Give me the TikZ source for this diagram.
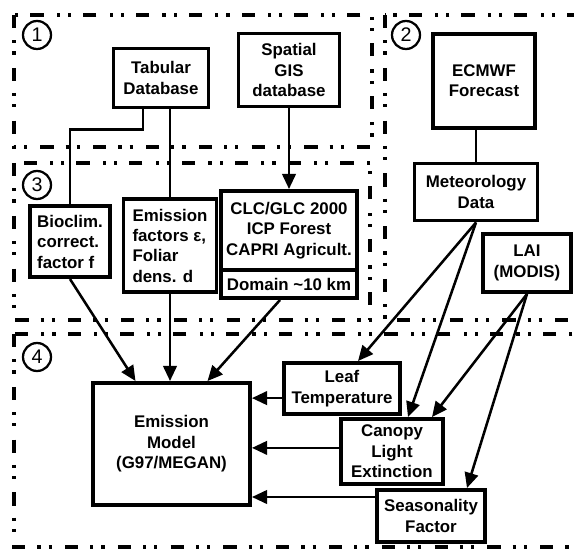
\documentclass[tikz,border=0pt]{standalone}
\usepackage{fontspec}
\setmainfont{Liberation Sans}
\usepackage{tikz}
\usetikzlibrary{arrows.meta, positioning, calc}

\begin{document}
\begin{tikzpicture}[
  box/.style={draw, line width=2.8pt, align=center, inner sep=2pt, font=\fontsize{12}{14.5}\selectfont\bfseries},
  lbox/.style={box, align=left},
  region/.style={draw, line width=3.2pt, dash pattern=on 0.33cm off 0.3cm on 0.08cm off 0.2cm on 0.08cm off 0.33cm},
  numcirc/.style={draw, circle, line width=1.6pt, minimum size=0.7cm, inner sep=0pt, font=\fontsize{14}{14}\selectfont},
  link/.style={line width=1.8pt},
  flow/.style={link, -{Triangle[length=0.38cm, width=0.34cm]}},
  ]
  \useasboundingbox (0,0) rectangle (14.35,-13.75);
  \clip (0,0) rectangle (14.35,-13.75);

  % regions
  \draw[region] (0.35,-0.375) rectangle (9.3,-3.675);
  \draw[region] (9.625,-0.375) rectangle (15,-8.0);
  \draw[region] (0.35,-4.075) rectangle (9.25,-8.0);
  \draw[region] (0.35,-8.35) rectangle (15,-13.675);
  \node[numcirc] (n1) at (0.925,-0.875) {1};
  \node[numcirc] (n2) at (10.15,-0.875) {2};
  \node[numcirc] (n3) at (0.925,-4.625) {3};
  \node[numcirc] (n4) at (0.925,-8.925) {4};

  % input data
  \node[box, minimum width=2.375cm, minimum height=1.475cm] (tab) at (4.025,-1.95) {Tabular\\Database};
  \node[box, minimum width=2.525cm, minimum height=1.825cm] (gis) at (7.225,-1.75) {Spatial\\GIS\\database};
  \node[box, minimum width=2.55cm, minimum height=2.35cm] (ecmwf) at (12.1,-2.025) {ECMWF\\Forecast};
  \node[box, minimum width=3.075cm, minimum height=1.425cm] (met) at (11.9,-4.8) {Meteorology\\Data};
  \node[box, minimum width=2.2cm, minimum height=1.45cm] (lai) at (13.175,-6.575) {LAI\\(MODIS)};
  \node[lbox, minimum width=2.0cm, minimum height=1.775cm] (bio) at (1.75,-6.04) {Bioclim.\\correct.\\factor f};
  \node[lbox, minimum width=2.325cm, minimum height=2.325cm] (emf) at (4.25,-6.14) {Emission\\factors ε,\\Foliar\\dens. d};
  \node[box, minimum width=3.4cm, minimum height=1.975cm] (clc) at (7.225,-5.7625) {CLC/GLC 2000\\ICP Forest\\CAPRI Agricult.};
  \node[box, minimum width=3.4cm, minimum height=0.7cm] (dom) at (7.225,-7.1) {Domain \textasciitilde10 km};

  % model
  \node[box, minimum width=3.925cm, minimum height=3.05cm] (model) at (4.2875,-11.1) {Emission\\Model\\(G97/MEGAN)};
  \node[box, minimum width=2.9cm, minimum height=1.275cm] (leaf) at (8.55,-9.7125) {Leaf\\Temperature};
  \node[box, minimum width=2.55cm, minimum height=1.625cm] (canopy) at (9.8,-11.2875) {Canopy\\Light\\Extinction};
  \node[box, minimum width=2.7cm, minimum height=1.3cm] (season) at (10.775,-12.9) {Seasonality\\Factor};

  % connectors
  \draw[link] ([xshift=-0.45cm]tab.south) -- ++(0,-0.5) -| (bio.north);
  \draw[link] (tab.south -| emf.north) -- (emf.north);
  \draw[flow] (gis) -- (clc);
  \draw[link] (ecmwf.south -| met.north) -- (met.north);
  \draw[flow] (bio.south) -- ([xshift=-0.9cm]model.north);
  \draw[flow] (emf.south) -- (emf.south |- model.north);
  \draw[flow] ([xshift=-0.225cm]dom.south) -- ([xshift=0.9cm]model.north);
  \draw[flow] (met.south) -- ([xshift=0.4cm]leaf.north);
  \draw[flow] (met.south) -- ([xshift=0.4cm]canopy.north);
  \draw[flow] (lai.south) -- ([xshift=1.0cm]canopy.north);
  \draw[flow] (lai.south) -- ([xshift=0.9cm]season.north);
  \draw[flow] ([yshift=-0.24cm]leaf.west) -- ([yshift=-0.24cm]leaf.west -| model.east);
  \draw[flow] ([yshift=0.09cm]canopy.west) -- ([yshift=0.09cm]canopy.west -| model.east);
  \draw[flow] ([yshift=0.475cm]season.west) -- ([yshift=0.475cm]season.west -| model.east);
\end{tikzpicture}
\end{document}
